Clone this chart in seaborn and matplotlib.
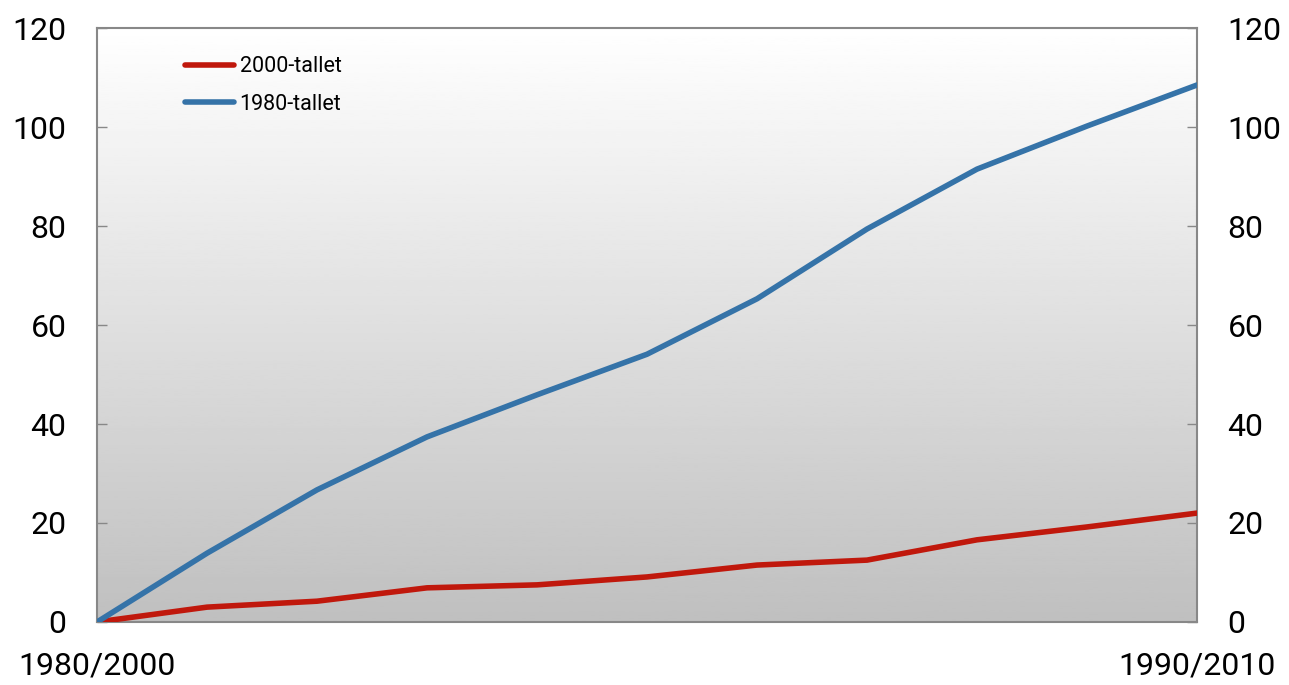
import matplotlib
matplotlib.use("Agg")
import matplotlib.pyplot as plt
import numpy as np
import pandas as pd
import seaborn as sns

# Years since start of decade
steps = list(range(11))
tallet_2000 = [0, 3.0, 4.2, 6.9, 7.5, 9.1, 11.5, 12.5, 16.6, 19.2, 22.0]
tallet_1980 = [0, 13.9, 26.7, 37.4, 45.9, 54.1, 65.3, 79.4, 91.5, 100.2, 108.5]
series_names = ["2000-tallet", "1980-tallet"]
y_ticks = [0, 20, 40, 60, 80, 100, 120]
x_labels = {0: "1980/2000", 10: "1990/2010"}

RED = "#c0180c"
BLUE = "#3573a8"

sns.set_theme(style="white")
plt.rcParams["font.family"] = ["Roboto", "DejaVu Sans"]
plt.rcParams["text.color"] = "black"
plt.rcParams["xtick.color"] = "black"
plt.rcParams["ytick.color"] = "black"

df = pd.DataFrame({
    "step": steps * 2,
    "value": tallet_2000 + tallet_1980,
    "serie": [series_names[0]] * len(steps) + [series_names[1]] * len(steps),
})

fig = plt.figure(figsize=(12.89, 6.85), dpi=100)
ax = fig.add_axes([0.0753, 0.092, 0.8533, 0.867])

# gradient background, grey at bottom to white at top
grad = np.linspace(0.75, 1.0, 256).reshape(-1, 1)
ax.imshow(grad, cmap="gray", vmin=0, vmax=1, aspect="auto", origin="lower",
          extent=[0, 10, 0, 120], zorder=0)

sns.lineplot(data=df, x="step", y="value", hue="serie",
             palette={series_names[0]: RED, series_names[1]: BLUE},
             linewidth=4, ax=ax, legend=True, zorder=3)

ax.set_xlim(0, 10)
ax.set_ylim(0, 120)
ax.set_xlabel("")
ax.set_ylabel("")
ax.set_yticks(y_ticks)
ax.set_xticks(list(x_labels.keys()))
ax.set_xticklabels(list(x_labels.values()))
ax.tick_params(axis="y", which="both", direction="in", length=7, width=1,
               color="#888888", labelcolor="black", labelsize=23, pad=22,
               left=True, right=True, labelleft=True, labelright=True)
ax.tick_params(axis="x", length=0, labelsize=23, labelcolor="black", pad=21)
for sp in ax.spines.values():
    sp.set_color("#888888")
    sp.set_linewidth(1.5)

leg = ax.legend(loc="upper left", bbox_to_anchor=(0.062, 0.985), frameon=False,
                fontsize=15.5, handlelength=2.3, handletextpad=0.25,
                labelspacing=0.75)
for line in leg.get_lines():
    line.set_linewidth(4)
for t in leg.get_texts():
    t.set_color("black")

fig.savefig("out.png", dpi=100)
